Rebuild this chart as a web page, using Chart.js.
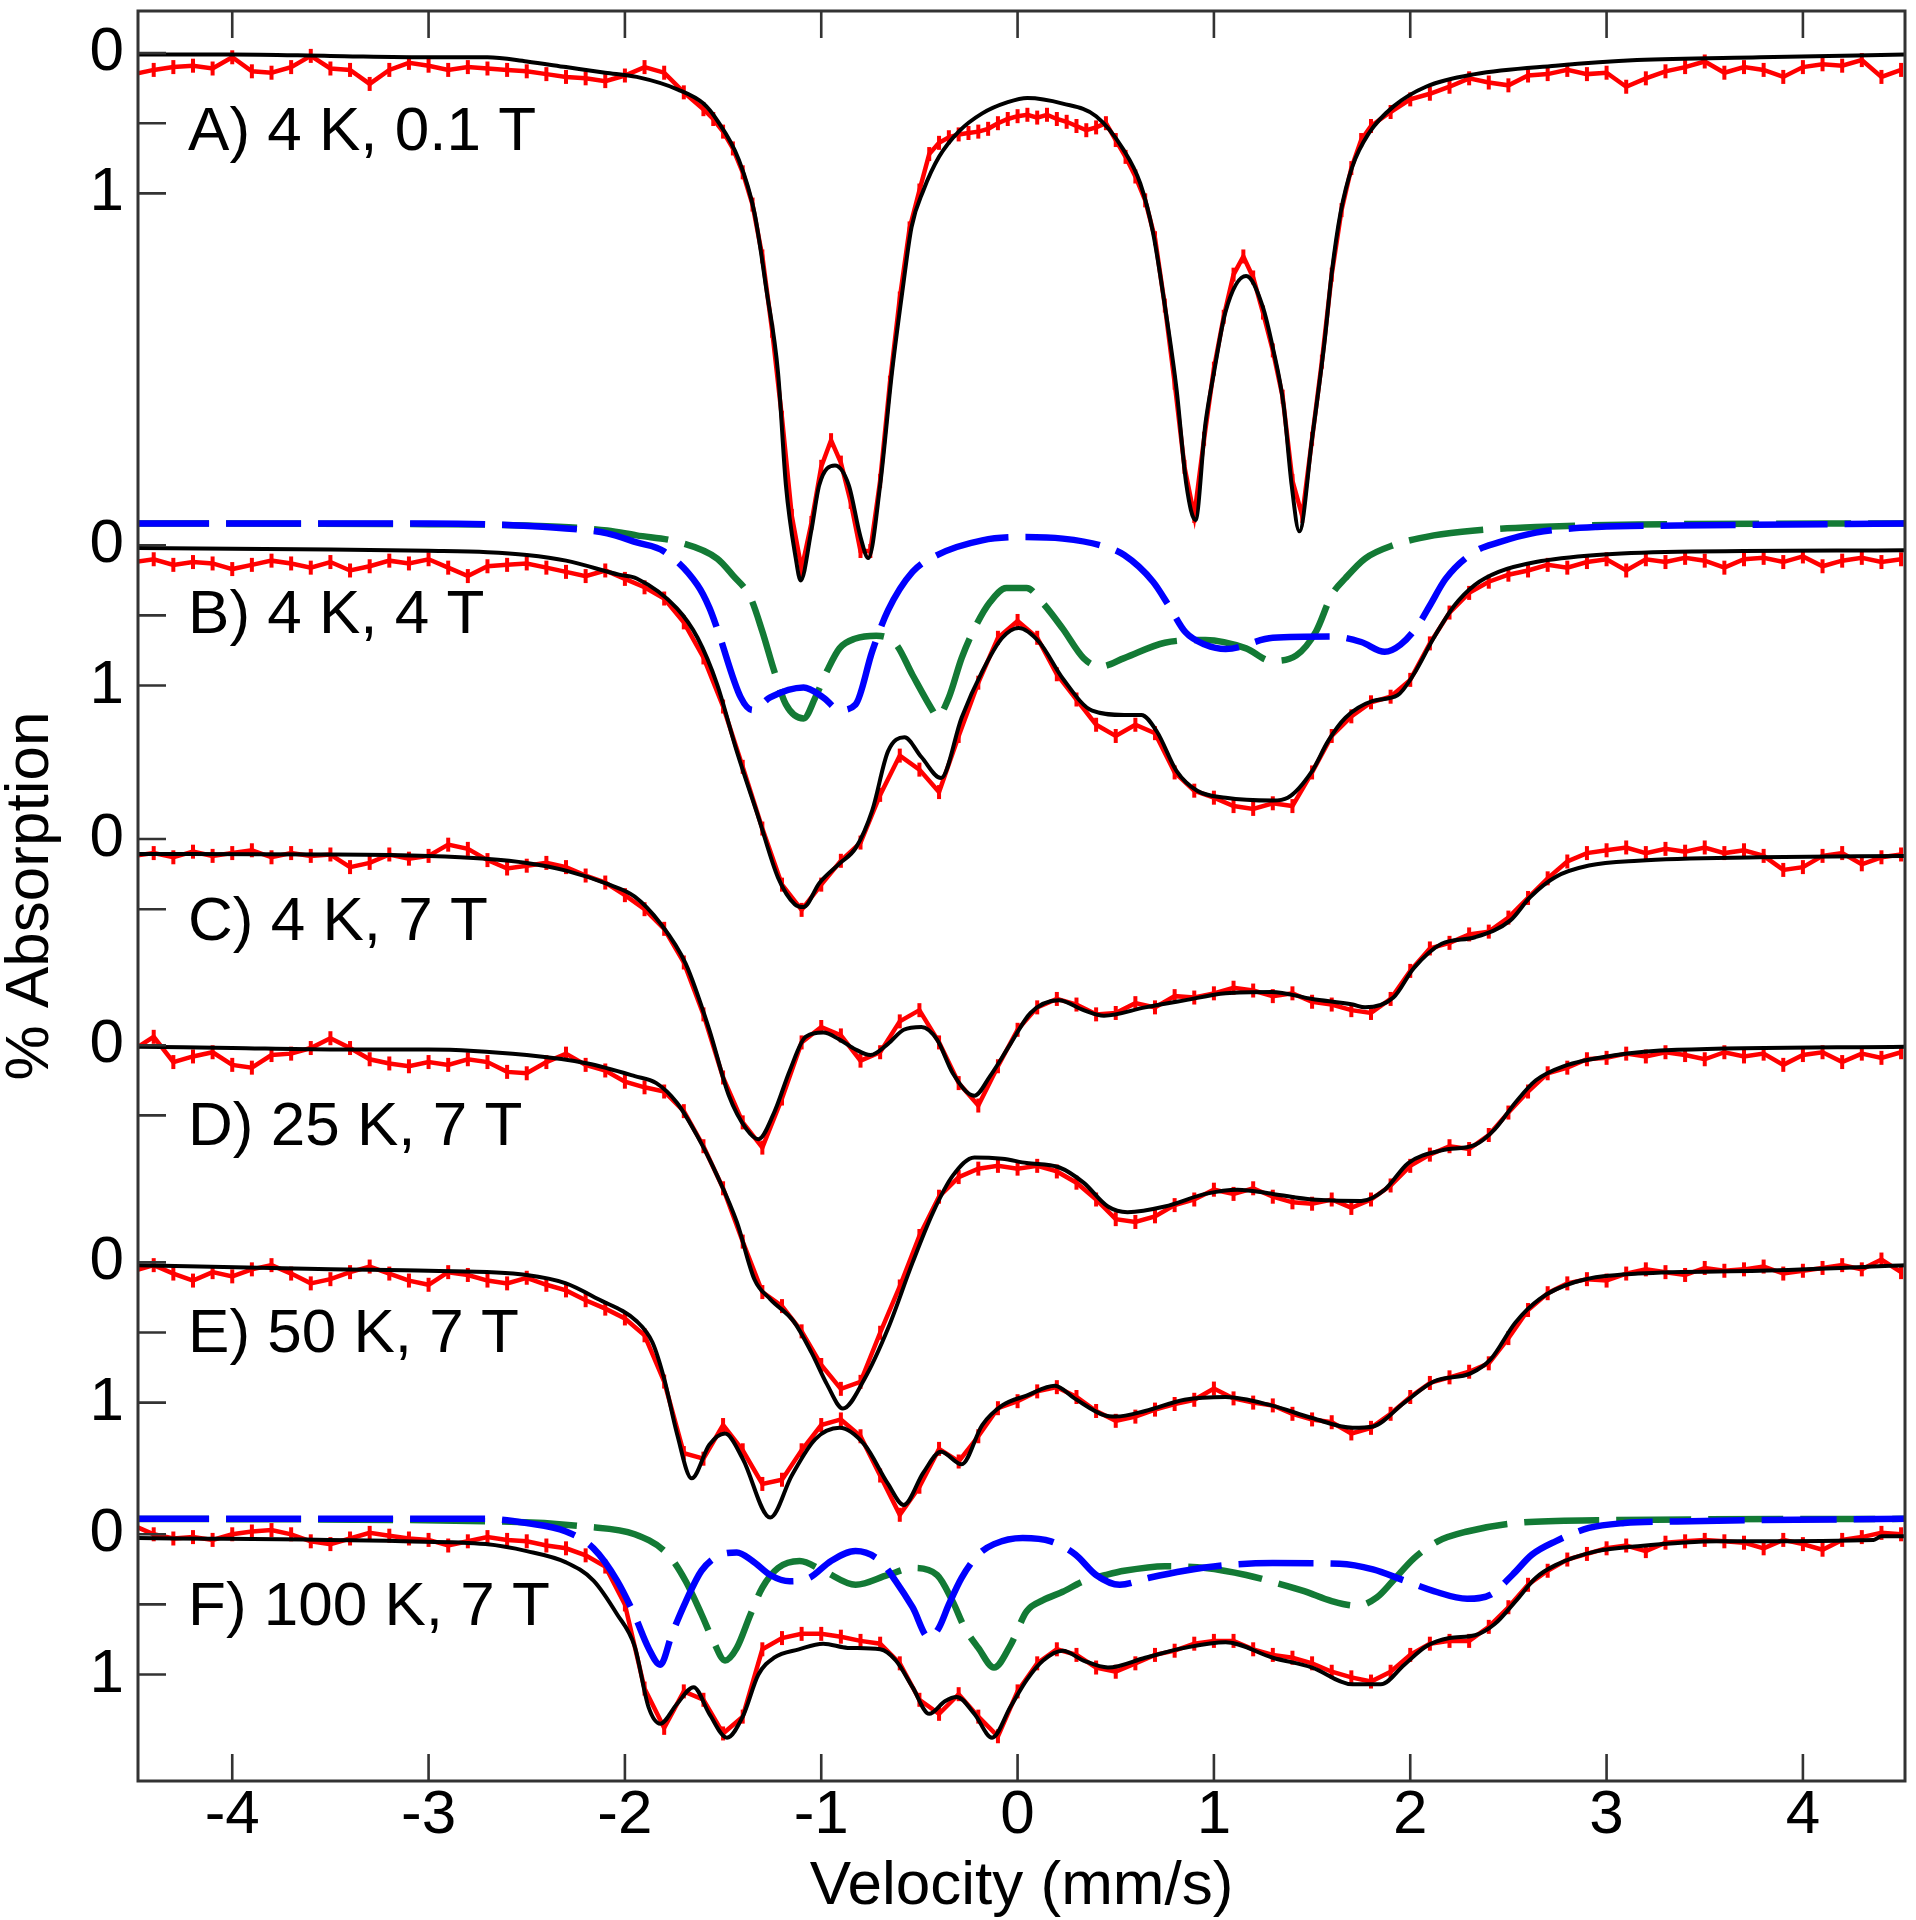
<!DOCTYPE html>
<html><head><meta charset="utf-8">
<script src="https://cdn.jsdelivr.net/npm/chart.js@4.4.1/dist/chart.umd.min.js"></script>
<style>html,body{margin:0;padding:0;background:#fff;}canvas{display:block;}</style>
</head><body>
<canvas id="c" width="1916" height="1920"></canvas>
<script>
// ---------- DATA ----------
const velocity = [-4.5,-4.4,-4.3,-4.2,-4.1,-4.0,-3.9,-3.8,-3.7,-3.6,-3.5,-3.4,-3.3,-3.2,-3.1,-3.0,-2.9,-2.8,-2.7,-2.6,-2.5,-2.4,-2.3,-2.2,-2.1,-2.0,-1.9,-1.8,-1.7,-1.6,-1.5,-1.4,-1.3,-1.2,-1.1,-1.0,-0.9,-0.8,-0.7,-0.6,-0.5,-0.4,-0.3,-0.2,-0.1,0.0,0.1,0.2,0.3,0.4,0.5,0.6,0.7,0.8,0.9,1.0,1.1,1.2,1.3,1.4,1.5,1.6,1.7,1.8,1.9,2.0,2.1,2.2,2.3,2.4,2.5,2.6,2.7,2.8,2.9,3.0,3.1,3.2,3.3,3.4,3.5,3.6,3.7,3.8,3.9,4.0,4.1,4.2,4.3,4.4,4.5];

const velocityA = [-4.5,-4.4,-4.3,-4.2,-4.1,-4.0,-3.9,-3.8,-3.7,-3.6,-3.5,-3.4,-3.3,-3.2,-3.1,-3.0,-2.9,-2.8,-2.7,-2.6,-2.5,-2.4,-2.3,-2.2,-2.1,-2.0,-1.9,-1.8,-1.7,-1.6,
 -1.55,-1.5,-1.45,-1.4,-1.35,-1.3,-1.25,-1.2,-1.15,-1.1,-1.05,-1.0,-0.95,-0.9,-0.85,-0.8,-0.75,-0.7,-0.65,-0.6,-0.55,-0.5,-0.45,-0.4,-0.35,-0.3,-0.25,-0.2,-0.15,-0.1,-0.05,
 0.0,0.05,0.1,0.15,0.2,0.25,0.3,0.35,0.4,0.45,0.5,0.55,0.6,0.65,0.7,0.75,0.8,0.85,0.9,0.95,1.0,1.05,1.1,1.15,1.2,1.25,1.3,1.35,1.4,1.45,1.5,1.55,1.6,1.65,1.7,1.75,
 1.8,1.9,2.0,2.1,2.2,2.3,2.4,2.5,2.6,2.7,2.8,2.9,3.0,3.1,3.2,3.3,3.4,3.5,3.6,3.7,3.8,3.9,4.0,4.1,4.2,4.3,4.4,4.5];

// measured % absorption (red points)
const dataA = [0.15,0.12,0.10,0.09,0.11, 0.03,0.13,0.14,0.10,0.02,0.11,0.12,0.22,0.12,0.07, 0.09,0.12,0.10,0.11,0.12,0.13,0.15,0.17,0.18,0.20, 0.16,0.10,0.14,0.28,0.40,
 0.47,0.56,0.68,0.85,1.08,1.45,1.98,2.60,3.30,3.68,3.35,2.95,2.76,2.92,3.20,3.55,3.55,3.05,2.35,1.75,1.25,0.98,0.72,0.64,0.60,0.58,0.57,0.56,0.54,0.50,0.47,
 0.45,0.44,0.46,0.44,0.47,0.49,0.52,0.55,0.53,0.50,0.62,0.74,0.88,1.05,1.32,1.80,2.35,2.95,3.30,2.75,2.25,1.88,1.58,1.45,1.60,1.85,2.12,2.45,3.05,3.30,2.75,2.20,1.58,1.12,0.82,0.62,
 0.52,0.42,0.33,0.29,0.24,0.18,0.21,0.23,0.16,0.15,0.12,0.15,0.14,0.24,0.18,0.13,0.10,0.06,0.14,0.10,0.12,0.17,0.10,0.08,0.09,0.05,0.17,0.12];
const dataB = [0.12,0.10,0.14,0.12,0.13,0.17, 0.14,0.11,0.13,0.16,0.12,0.18,0.15,0.11,0.13,0.10, 0.16,0.22,0.15,0.14,0.13,0.16,0.19,0.22,0.18,0.24,
 0.30,0.38,0.55,0.80,1.15,1.58,2.02,2.42,2.60,2.42, 2.25,2.12,1.78,1.50,1.60,1.76,1.36,0.98,0.66,0.54, 0.66,0.92,1.10,1.28,1.36,1.28,1.34,1.62,1.75,1.80,
 1.86,1.88,1.84,1.86,1.62,1.36,1.22,1.12,1.08,0.96, 0.70,0.48,0.34,0.26,0.21,0.18,0.14,0.16,0.12,0.10, 0.18,0.10,0.12,0.09,0.11,0.16,0.10,0.09,0.12,0.08, 0.15,0.11,0.09,0.12,0.10];
const dataC = [0.12,0.10,0.13,0.09,0.12,0.10, 0.08,0.13,0.10,0.12,0.11,0.20,0.17,0.11,0.14,0.12, 0.04,0.07,0.15,0.21,0.19,0.17,0.20,0.26,0.31,0.40,
 0.50,0.64,0.88,1.25,1.70,2.02,2.20,1.85,1.45,1.34, 1.40,1.58,1.52,1.30,1.22,1.45,1.74,1.90,1.62,1.36, 1.20,1.14,1.18,1.25,1.24,1.17,1.20,1.12,1.13,1.10,
 1.06,1.08,1.12,1.10,1.16,1.18,1.22,1.24,1.14,0.94, 0.78,0.74,0.68,0.66,0.56,0.42,0.28,0.16,0.10,0.08, 0.06,0.10,0.07,0.09,0.06,0.10,0.08,0.12,0.22,0.20, 0.12,0.10,0.18,0.13,0.11];
const dataD = [0.03,-0.06,0.12,0.08,0.05,0.14, 0.16,0.07,0.06,0.02,-0.05,0.02,0.10,0.13,0.15,0.12, 0.14,0.10,0.12,0.19,0.20,0.12,0.06,0.14,0.18,0.26,
 0.30,0.33,0.47,0.72,1.02,1.40,1.76,1.86,2.04,2.28, 2.45,2.40,2.05,1.72,1.36,1.08,0.94,0.88,0.86,0.88, 0.86,0.90,0.98,1.10,1.24,1.26,1.22,1.14,1.10,1.03,
 1.06,1.02,1.08,1.12,1.13,1.10,1.16,1.10,1.00,0.86, 0.78,0.72,0.74,0.64,0.48,0.33,0.20,0.16,0.10,0.09, 0.06,0.08,0.05,0.07,0.10,0.05,0.08,0.06,0.14,0.07, 0.05,0.12,0.06,0.09,0.05];
const dataE = [0.06,0.02,0.08,0.13,0.07,0.10, 0.05,0.02,0.08,0.15,0.12,0.07,0.03,0.08,0.13,0.16, 0.07,0.09,0.13,0.15,0.11,0.16,0.20,0.27,0.33,0.40,
 0.52,0.85,1.36,1.40,1.16,1.34,1.58,1.55,1.34,1.16, 1.12,1.24,1.52,1.80,1.60,1.33,1.42,1.24,1.04,0.99, 0.92,0.89,0.96,1.06,1.13,1.10,1.05,1.01,0.98,0.90,
 0.97,1.00,1.02,1.08,1.12,1.14,1.22,1.18,1.08,0.96, 0.86,0.82,0.78,0.72,0.54,0.34,0.22,0.15,0.12,0.13, 0.08,0.05,0.07,0.09,0.04,0.06,0.05,0.03,0.08,0.06, 0.04,0.02,0.05,-0.02,0.07];
const dataF = [-0.06,0.00,0.03,0.02,0.04,0.00, -0.02,-0.03,0.00,0.05,0.07,0.03,-0.01,0.01,0.03,0.04, 0.08,0.05,0.02,0.04,0.05,0.08,0.10,0.15,0.23,0.50,
 1.10,1.38,1.12,1.18,1.42,1.30,0.82,0.74,0.71,0.71, 0.73,0.76,0.78,0.92,1.18,1.28,1.14,1.30,1.44,1.12, 0.92,0.82,0.86,0.95,0.98,0.92,0.86,0.83,0.78,0.76,
 0.76,0.82,0.86,0.88,0.92,0.98,1.02,1.05,0.98,0.86, 0.78,0.76,0.76,0.66,0.52,0.36,0.26,0.18,0.14,0.10, 0.08,0.12,0.06,0.05,0.04,0.05,0.06,0.10,0.04,0.07, 0.11,0.04,0.02,-0.01,0.00];

// fitted spectra (black lines): [velocity, % absorption]
const fitA = [[-4.5,0.01],[-4.0,0.01],[-3.5,0.02],[-3.0,0.03],[-2.7,0.03],[-2.5,0.06],[-2.3,0.10],[-2.1,0.14],[-1.94,0.17],[-1.73,0.26],[-1.6,0.36],[-1.53,0.48],[-1.42,0.76],[-1.34,1.14],[-1.28,1.68],[-1.22,2.28],[-1.18,3.08],[-1.13,3.6],[-1.105,3.76],[-1.05,3.4],[-1.01,3.08],[-0.93,2.94],[-0.86,3.08],[-0.8,3.45],[-0.76,3.6],[-0.7,3.08],[-0.64,2.28],[-0.585,1.68],[-0.54,1.24],[-0.48,0.98],[-0.4,0.74],[-0.3,0.56],[-0.18,0.43],[-0.05,0.35],[0.05,0.32],[0.23,0.36],[0.4,0.45],[0.54,0.69],[0.625,0.93],[0.69,1.28],[0.75,1.8],[0.81,2.4],[0.86,3.08],[0.906,3.33],[0.957,2.64],[1.0,2.28],[1.06,1.84],[1.164,1.59],[1.247,1.8],[1.3,2.1],[1.355,2.51],[1.396,3.08],[1.435,3.41],[1.5,2.75],[1.565,2.04],[1.6,1.57],[1.645,1.14],[1.705,0.81],[1.79,0.57],[1.915,0.38],[2.08,0.24],[2.33,0.15],[2.74,0.09],[3.155,0.05],[3.78,0.03],[4.53,0.01]];
const fitB = [[-4.5,0.02],[-3.5,0.03],[-3.0,0.04],[-2.7,0.05],[-2.5,0.07],[-2.3,0.11],[-2.03,0.21],[-1.94,0.237],[-1.735,0.45],[-1.63,0.66],[-1.53,0.994],[-1.43,1.47],[-1.32,1.94],[-1.22,2.37],[-1.135,2.56],[-1.09,2.58],[-1.01,2.41],[-0.907,2.27],[-0.825,2.16],[-0.74,1.89],[-0.66,1.47],[-0.576,1.37],[-0.49,1.51],[-0.39,1.66],[-0.285,1.23],[-0.18,0.9],[-0.078,0.66],[0.005,0.59],[0.11,0.69],[0.23,0.95],[0.38,1.18],[0.543,1.21],[0.63,1.21],[0.71,1.33],[0.81,1.61],[0.915,1.75],[1.06,1.8],[1.3,1.82],[1.376,1.8],[1.5,1.61],[1.58,1.4],[1.67,1.23],[1.81,1.11],[1.935,1.07],[2.018,0.92],[2.12,0.66],[2.225,0.43],[2.328,0.284],[2.45,0.19],[2.64,0.12],[2.95,0.07],[3.363,0.047],[4.52,0.036]];
const fitC = [[-4.5,0.107],[-3.5,0.11],[-3.0,0.12],[-2.71,0.14],[-2.5,0.17],[-2.3,0.225],[-2.09,0.32],[-1.95,0.41],[-1.82,0.6],[-1.69,0.89],[-1.57,1.36],[-1.47,1.83],[-1.38,2.07],[-1.32,2.14],[-1.24,1.95],[-1.16,1.65],[-1.08,1.41],[-0.99,1.38],[-0.907,1.43],[-0.825,1.5],[-0.75,1.54],[-0.66,1.46],[-0.58,1.36],[-0.49,1.34],[-0.41,1.43],[-0.33,1.67],[-0.22,1.83],[-0.14,1.69],[-0.036,1.46],[0.066,1.24],[0.21,1.15],[0.336,1.22],[0.44,1.26],[0.65,1.2],[0.85,1.15],[1.06,1.1],[1.293,1.09],[1.5,1.14],[1.707,1.18],[1.77,1.2],[1.914,1.13],[2.018,0.92],[2.16,0.746],[2.33,0.7],[2.51,0.58],[2.61,0.415],[2.74,0.27],[2.91,0.189],[3.16,0.154],[3.78,0.13],[4.52,0.12]];
const fitD = [[-4.5,0.01],[-4.0,0.02],[-3.5,0.03],[-3.0,0.03],[-2.5,0.07],[-2.19,0.13],[-1.95,0.22],[-1.84,0.27],[-1.735,0.41],[-1.63,0.65],[-1.53,0.93],[-1.43,1.26],[-1.34,1.67],[-1.26,1.81],[-1.14,1.97],[-1.05,2.19],[-0.97,2.42],[-0.89,2.59],[-0.78,2.38],[-0.66,2.02],[-0.535,1.55],[-0.43,1.19],[-0.33,0.93],[-0.22,0.8],[-0.078,0.81],[0.046,0.84],[0.21,0.87],[0.336,0.98],[0.46,1.15],[0.56,1.19],[0.75,1.15],[0.957,1.06],[1.12,1.03],[1.3,1.06],[1.5,1.1],[1.75,1.11],[1.87,1.03],[1.99,0.84],[2.16,0.75],[2.33,0.71],[2.43,0.6],[2.535,0.41],[2.64,0.25],[2.78,0.15],[3.05,0.07],[3.36,0.033],[4.52,0.01]];
const fitE = [[-4.5,0.02],[-3.5,0.05],[-3.0,0.06],[-2.5,0.09],[-2.3,0.15],[-2.14,0.26],[-1.94,0.42],[-1.86,0.57],[-1.8,0.83],[-1.735,1.22],[-1.66,1.54],[-1.57,1.3],[-1.49,1.22],[-1.4,1.4],[-1.26,1.82],[-1.15,1.52],[-1.03,1.26],[-0.907,1.18],[-0.78,1.3],[-0.66,1.58],[-0.58,1.73],[-0.48,1.5],[-0.39,1.35],[-0.285,1.44],[-0.18,1.16],[-0.078,1.02],[0.046,0.95],[0.19,0.88],[0.29,0.97],[0.44,1.09],[0.5,1.1],[0.65,1.06],[0.85,0.98],[1.06,0.96],[1.293,1.02],[1.5,1.11],[1.707,1.18],[1.81,1.17],[1.97,1.0],[2.12,0.85],[2.31,0.79],[2.41,0.69],[2.535,0.43],[2.66,0.26],[2.84,0.14],[3.16,0.08],[3.78,0.06],[4.52,0.02]];
const fitF = [[-4.5,0.026],[-3.13,0.05],[-2.71,0.07],[-2.5,0.12],[-2.3,0.2],[-2.16,0.33],[-2.04,0.57],[-1.95,0.8],[-1.88,1.23],[-1.82,1.35],[-1.735,1.21],[-1.65,1.09],[-1.57,1.28],[-1.48,1.45],[-1.4,1.3],[-1.32,1.0],[-1.24,0.88],[-1.114,0.82],[-0.99,0.78],[-0.865,0.81],[-0.7,0.82],[-0.62,0.9],[-0.535,1.09],[-0.45,1.28],[-0.37,1.19],[-0.31,1.16],[-0.22,1.28],[-0.13,1.45],[-0.036,1.23],[0.046,1.04],[0.13,0.9],[0.23,0.83],[0.336,0.9],[0.46,0.95],[0.65,0.88],[0.85,0.81],[1.06,0.77],[1.3,0.88],[1.5,0.95],[1.707,1.07],[1.85,1.07],[1.97,0.93],[2.08,0.8],[2.2,0.74],[2.33,0.72],[2.43,0.64],[2.535,0.48],[2.64,0.31],[2.74,0.22],[2.95,0.12],[3.16,0.085],[3.57,0.05],[4.36,0.04],[4.4,0.014],[4.52,0.014]];

// sub-spectra (dashed), absorption relative to their own baseline
const blueB = [[-4.5,0],[-3.0,0],[-2.6,0.01],[-2.3,0.035],[-2.09,0.07],[-1.94,0.135],[-1.8,0.2],[-1.63,0.44],[-1.57,0.6],[-1.53,0.75],[-1.41,1.24],[-1.35,1.33],[-1.26,1.24],[-1.09,1.17],[-0.99,1.24],[-0.907,1.33],[-0.825,1.29],[-0.74,0.91],[-0.66,0.62],[-0.535,0.345],[-0.41,0.225],[-0.18,0.12],[0.026,0.097],[0.23,0.108],[0.42,0.155],[0.543,0.225],[0.69,0.415],[0.77,0.585],[0.855,0.775],[0.957,0.865],[1.06,0.895],[1.3,0.815],[1.6,0.805],[1.75,0.845],[1.87,0.915],[1.95,0.865],[2.04,0.725],[2.1,0.585],[2.18,0.395],[2.33,0.2],[2.45,0.135],[2.64,0.065],[2.95,0.025],[3.36,0.015],[4.52,0]];
const greenB = [[-4.5,0],[-3.0,0.005],[-2.5,0.015],[-2.09,0.05],[-1.94,0.085],[-1.735,0.13],[-1.53,0.25],[-1.45,0.37],[-1.36,0.53],[-1.3,0.77],[-1.24,1.05],[-1.18,1.29],[-1.09,1.39],[-1.03,1.24],[-0.97,1.05],[-0.907,0.89],[-0.825,0.82],[-0.72,0.8],[-0.62,0.86],[-0.535,1.08],[-0.43,1.34],[-0.41,1.38],[-0.35,1.24],[-0.285,0.96],[-0.22,0.75],[-0.14,0.56],[-0.057,0.46],[0.046,0.46],[0.13,0.57],[0.23,0.75],[0.336,0.96],[0.42,1.02],[0.543,0.96],[0.75,0.85],[0.957,0.83],[1.164,0.89],[1.293,0.98],[1.42,0.94],[1.52,0.77],[1.6,0.51],[1.67,0.39],[1.77,0.25],[1.914,0.155],[2.12,0.085],[2.33,0.05],[2.64,0.025],[3.16,0.007],[4.52,0]];
const blueF = [[-4.5,0],[-2.71,0],[-2.5,0.03],[-2.3,0.09],[-2.16,0.21],[-2.04,0.44],[-1.95,0.69],[-1.88,0.92],[-1.82,1.04],[-1.76,0.82],[-1.69,0.59],[-1.61,0.37],[-1.51,0.255],[-1.43,0.24],[-1.35,0.3],[-1.26,0.4],[-1.16,0.445],[-1.06,0.42],[-0.95,0.3],[-0.825,0.23],[-0.7,0.3],[-0.62,0.445],[-0.535,0.63],[-0.45,0.85],[-0.4,0.775],[-0.35,0.61],[-0.285,0.42],[-0.2,0.255],[-0.12,0.18],[0.026,0.136],[0.17,0.16],[0.295,0.255],[0.4,0.4],[0.52,0.47],[0.67,0.42],[0.85,0.37],[1.06,0.33],[1.3,0.315],[1.64,0.32],[1.81,0.36],[1.97,0.44],[2.12,0.515],[2.29,0.57],[2.41,0.54],[2.52,0.4],[2.62,0.255],[2.74,0.16],[2.91,0.065],[3.09,0.03],[3.36,0.018],[4.52,0]];
const greenF = [[-4.5,0],[-2.58,0.02],[-2.2,0.055],[-1.95,0.11],[-1.78,0.255],[-1.69,0.445],[-1.61,0.68],[-1.55,0.87],[-1.49,1.01],[-1.43,0.92],[-1.36,0.68],[-1.3,0.49],[-1.22,0.35],[-1.11,0.3],[-0.99,0.37],[-0.825,0.47],[-0.66,0.4],[-0.535,0.35],[-0.41,0.4],[-0.33,0.59],[-0.27,0.775],[-0.2,0.92],[-0.12,1.06],[-0.036,0.9],[0.046,0.66],[0.13,0.58],[0.23,0.52],[0.336,0.445],[0.45,0.4],[0.543,0.37],[0.75,0.337],[0.957,0.35],[1.164,0.4],[1.3,0.45],[1.46,0.515],[1.6,0.586],[1.73,0.62],[1.83,0.56],[1.91,0.445],[2.02,0.28],[2.14,0.16],[2.29,0.09],[2.535,0.03],[2.95,0.01],[4.52,0]];

// vertical stacking offsets (in % absorption units) of each spectrum, and of the sub-spectra baselines
const offsets = [0, 3.509, 5.604, 7.074, 8.622, 10.561];
const componentOffsetB = 3.354;
const componentOffsetF = 10.451;

const xTickValues = [-4,-3,-2,-1,0,1,2,3,4];
const yTickSteps = [[0,0.5,1],[0,0.5,1],[0,0.5],[0,0.5],[0,0.5,1],[0,0.5,1]];
const spectrumLabels = ['A) 4 K, 0.1 T','B) 4 K, 4 T','C) 4 K, 7 T','D) 25 K, 7 T','E) 50 K, 7 T','F) 100 K, 7 T'];
const labelBaseline = [0.69, 0.625, 0.72, 0.71, 0.64, 0.65];
const labelVelocity = -4.225;

// ---------- CHART ----------
const FONT = "'Liberation Sans', Arial, Helvetica, sans-serif";
const AXIS = '#333333';

const yTicks = [], yTickText = [];
yTickSteps.forEach((steps, i) => steps.forEach(s => {
  yTicks.push(offsets[i] + s);
  yTickText.push(s === 0 ? '0' : (s === 1 ? '1' : ''));
}));

const redSets = [[velocityA, dataA],[velocity, dataB],[velocity, dataC],[velocity, dataD],[velocity, dataE],[velocity, dataF]];
const fits = [fitA, fitB, fitC, fitD, fitE, fitF];
const datasets = [];
redSets.forEach(([xs, ys], i) => {
  datasets.push({
    data: xs.map((x, j) => ({x: x, y: offsets[i] + ys[j]})),
    borderColor: '#ff0000', backgroundColor: '#ff0000', borderWidth: 4.5,
    pointStyle: 'line', pointRotation: 90, pointRadius: 7, pointBorderWidth: 4,
    pointBorderColor: '#ff0000', tension: 0, order: 4
  });
  datasets.push({
    data: fits[i].map(p => ({x: p[0], y: offsets[i] + p[1]})),
    borderColor: '#000000', borderWidth: 4, pointRadius: 0,
    cubicInterpolationMode: 'monotone', order: 1
  });
});
function comp(pairs, off, color, order) {
  return {
    data: pairs.map(p => ({x: p[0], y: off + p[1]})),
    borderColor: color, borderWidth: 6.5, borderDash: [75, 17], pointRadius: 0,
    cubicInterpolationMode: 'monotone', order: order
  };
}
datasets.push(comp(greenB, componentOffsetB, '#137a35', 3));
datasets.push(comp(blueB, componentOffsetB, '#0000ff', 2));
datasets.push(comp(greenF, componentOffsetF, '#137a35', 3));
datasets.push(comp(blueF, componentOffsetF, '#0000ff', 2));

const framePlugin = {
  id: 'frame',
  afterDatasetsDraw(chart) {
    const {ctx, chartArea: a, scales: {x, y}} = chart;
    ctx.save();
    ctx.strokeStyle = AXIS;
    ctx.lineWidth = 2.6;
    ctx.beginPath();
    x.ticks.forEach((t, i) => {
      const px = x.getPixelForTick(i);
      ctx.moveTo(px, a.bottom); ctx.lineTo(px, a.bottom - 27);
      ctx.moveTo(px, a.top); ctx.lineTo(px, a.top + 27);
    });
    y.ticks.forEach((t, i) => {
      const py = y.getPixelForTick(i);
      ctx.moveTo(a.left, py); ctx.lineTo(a.left + 28, py);
    });
    ctx.stroke();
    ctx.lineWidth = 3;
    ctx.strokeRect(a.left, a.top, a.right - a.left, a.bottom - a.top);
    ctx.font = '62px ' + FONT;
    ctx.fillStyle = '#000';
    ctx.textAlign = 'left';
    ctx.textBaseline = 'alphabetic';
    spectrumLabels.forEach((t, i) => {
      ctx.fillText(t, x.getPixelForValue(labelVelocity), y.getPixelForValue(offsets[i] + labelBaseline[i]));
    });
    ctx.restore();
  }
};

new Chart(document.getElementById('c'), {
  type: 'line',
  data: { datasets: datasets },
  options: {
    responsive: false, animation: false, devicePixelRatio: 1, events: [],
    layout: { padding: { top: 3, right: 5, left: 0, bottom: 0 } },
    plugins: { legend: { display: false }, tooltip: { enabled: false } },
    scales: {
      x: {
        type: 'linear', min: -4.48, max: 4.52, position: 'bottom',
        afterBuildTicks: s => { s.ticks = xTickValues.map(v => ({value: v})); },
        afterFit: s => { s.height = 139; s.paddingLeft = 0; s.paddingRight = 0; },
        ticks: { autoSkip: false, maxRotation: 0, minRotation: 0, color: '#000',
          font: { family: FONT, size: 62, lineHeight: 1 }, padding: 4,
          callback: v => (v < 0 ? '-' : '') + Math.abs(v) },
        grid: { display: false, drawTicks: false },
        border: { display: false },
        title: { display: true, text: 'Velocity (mm/s)', color: '#000',
          font: { family: FONT, size: 62, lineHeight: 1 }, padding: { top: 0, bottom: 2 } }
      },
      y: {
        type: 'linear', reverse: true, min: -0.30, max: 12.32,
        afterBuildTicks: s => { s.ticks = yTicks.map(v => ({value: v})); },
        afterFit: s => { s.width = 138; s.paddingTop = 0; s.paddingBottom = 0; },
        ticks: { autoSkip: false, color: '#000', font: { family: FONT, size: 62, lineHeight: 1 },
          padding: 14, callback: (v, i) => yTickText[i] },
        grid: { display: false, drawTicks: false },
        border: { display: false },
        title: { display: true, text: '% Absorption', color: '#000',
          font: { family: FONT, size: 62, lineHeight: 1 }, padding: { top: 0, bottom: 0 } }
      }
    }
  },
  plugins: [framePlugin]
});
</script>
</body></html>
